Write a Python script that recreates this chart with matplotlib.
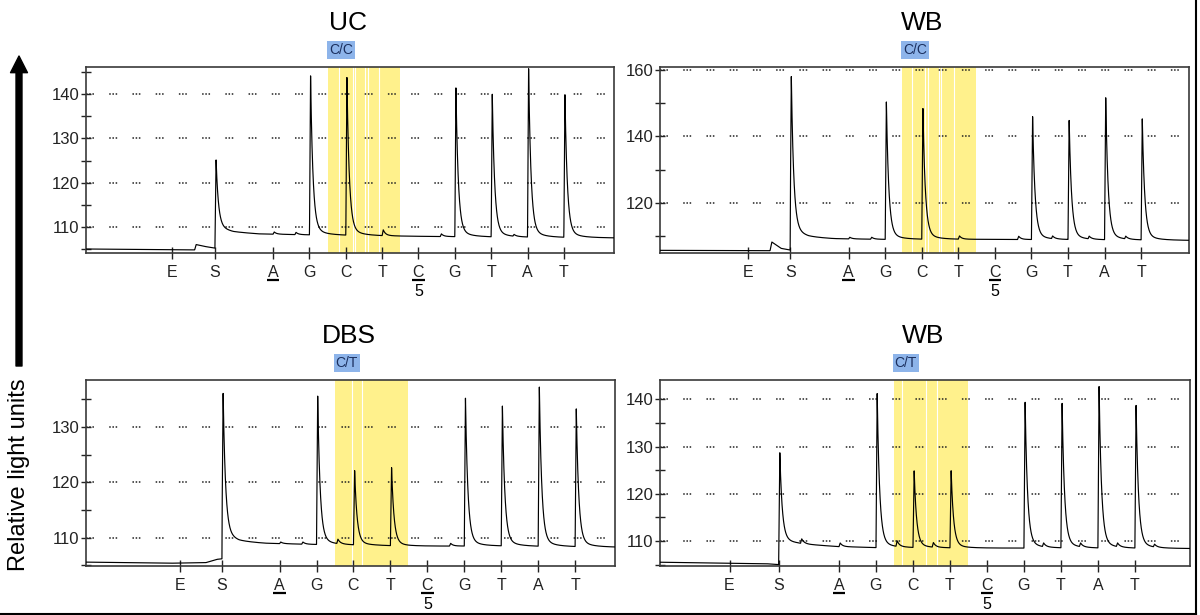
import numpy as np
import matplotlib
matplotlib.use("Agg")
import matplotlib.pyplot as plt
from matplotlib.lines import Line2D
from matplotlib.patches import FancyArrowPatch
from matplotlib.ticker import MultipleLocator
import matplotlib.transforms as mtransforms

plt.rcParams['font.family'] = ['Liberation Sans', 'DejaVu Sans']

W, H = 1200, 615

# dispensation order printed under every pyrogram
disp_labels = ['E', 'S', 'A', 'G', 'C', 'T', 'C', 'G', 'T', 'A', 'T']
nuc_pos = [3, 4, 5, 6, 7, 8, 9, 10, 11]

# ---- UC (top left) ----
uc_es = [0.23, 1.40]
uc_xlim = (-2.15, 12.38)
uc_ylim = (104.2, 146.1)
uc_base_x = [-2.15, 0.84, 0.88, 1.10, 1.40, 1.405, 1.9, 2.6, 3.9, 6.5, 9.0, 12.38]
uc_base_y = [105.1, 104.9, 106.1, 105.7, 105.3, 109.7, 108.9, 108.5, 108.3, 108.0, 107.8, 107.6]
uc_heights = [0, 15.5, 0.5, 35.8, 35.5, 1.3, 0, 33.5, 32.1, 37.9, 32.1]
uc_bump_x = [3.6, 7.6, 9.6]
uc_bump_h = [0.5, 0.6, 0.4]
uc_band = (4.52, 6.50)
uc_band_lines = [4.82, 5.20, 5.26, 5.54, 5.60, 5.92]

# ---- WB (top right) ----
wb1_es = [0.25, 1.40]
wb1_xlim = (-2.16, 12.31)
wb1_ylim = (104.9, 160.9)
wb1_base_x = [-2.16, 0.85, 0.90, 1.15, 1.40, 1.405, 1.9, 2.6, 4.0, 7.0, 9.0, 12.31]
wb1_base_y = [105.7, 105.6, 108.2, 106.3, 105.8, 110.5, 109.6, 109.2, 109.0, 109.0, 108.9, 108.7]
wb1_heights = [0, 49.0, 0.5, 42.6, 40.5, 1.0, 0, 38.1, 36.9, 44.0, 37.5]
wb1_bump_x = [3.6, 7.62, 8.55, 9.55, 10.55]
wb1_bump_h = [0.6, 1.0, 0.8, 0.8, 0.8]
wb1_band = (4.47, 6.48)
wb1_band_lines = [4.73, 5.10, 5.17, 5.46, 5.54, 5.88]

# ---- DBS (bottom left) ----
dbs_es = [0.30, 1.44]
dbs_xlim = (-2.24, 12.08)
dbs_ylim = (104.9, 138.5)
dbs_base_x = [-2.24, 0.0, 1.0, 1.30, 1.44, 1.445, 1.9, 2.6, 3.9, 6.5, 9.0, 12.08]
dbs_base_y = [105.6, 105.4, 105.5, 106.1, 106.2, 110.0, 109.3, 109.0, 108.8, 108.5, 108.5, 108.3]
dbs_heights = [0, 26.9, 0.3, 27.6, 13.8, 14.5, 0, 27.5, 26.0, 29.6, 25.6]
dbs_bump_x = [3.6, 4.55, 7.6]
dbs_bump_h = [0.4, 0.8, 0.5]
dbs_band = (4.49, 6.47)
dbs_band_lines = [4.95, 5.23]

# ---- WB (bottom right) ----
wb2_es = [0.04, 1.37]
wb2_xlim = (-1.84, 12.49)
wb2_ylim = (104.7, 144.1)
wb2_base_x = [-1.84, 0.0, 1.0, 1.37, 1.375, 2.2, 3.0, 4.0, 6.5, 9.0, 12.49]
wb2_base_y = [105.5, 105.3, 105.2, 105.0, 109.8, 109.2, 108.8, 108.6, 108.5, 108.5, 108.4]
wb2_heights = [0, 18.9, 0.8, 33.6, 16.7, 16.8, 0, 31.8, 31.5, 35.2, 31.1]
wb2_bump_x = [1.96, 4.54, 5.52, 8.5, 9.5, 10.5, 11.5]
wb2_bump_h = [1.0, 1.2, 1.0, 0.8, 0.8, 0.8, 0.6]
wb2_band = (4.48, 6.50)
wb2_band_lines = [4.71, 5.35, 5.65]

panels = [
    dict(rect=(86, 67, 614, 253), title='UC', geno='C/C', es=uc_es, xlim=uc_xlim,
         ylim=uc_ylim, major=10, minor=5, bx=uc_base_x, by=uc_base_y, h=uc_heights,
         bumpx=uc_bump_x, bumph=uc_bump_h, band=uc_band, blines=uc_band_lines),
    dict(rect=(660, 67, 1189, 253), title='WB', geno='C/C', es=wb1_es, xlim=wb1_xlim,
         ylim=wb1_ylim, major=20, minor=10, bx=wb1_base_x, by=wb1_base_y, h=wb1_heights,
         bumpx=wb1_bump_x, bumph=wb1_bump_h, band=wb1_band, blines=wb1_band_lines),
    dict(rect=(86, 380, 615, 566), title='DBS', geno='C/T', es=dbs_es, xlim=dbs_xlim,
         ylim=dbs_ylim, major=10, minor=5, bx=dbs_base_x, by=dbs_base_y, h=dbs_heights,
         bumpx=dbs_bump_x, bumph=dbs_bump_h, band=dbs_band, blines=dbs_band_lines),
    dict(rect=(660, 380, 1190, 566), title='WB', geno='C/T', es=wb2_es, xlim=wb2_xlim,
         ylim=wb2_ylim, major=10, minor=5, bx=wb2_base_x, by=wb2_base_y, h=wb2_heights,
         bumpx=wb2_bump_x, bumph=wb2_bump_h, band=wb2_band, blines=wb2_band_lines),
]


def peak_shape(t):
    # sharp light flash: quick rise, fast decay with a short tail
    rise = np.clip(t / 0.03, 0, 1)
    dt = np.clip(t - 0.03, 0, None)
    decay = 0.95 * np.exp(-dt / 0.065) + 0.05 * np.exp(-dt / 0.3)
    return np.where(t < 0, 0.0, np.where(t < 0.03, rise, decay))


fig = plt.figure(figsize=(W / 100, H / 100), dpi=100)

for p in panels:
    l, t, r, b = p['rect']
    ax = fig.add_axes([l / W, 1 - b / H, (r - l) / W, (b - t) / H])
    ax_h = b - t

    pos = list(p['es']) + nuc_pos
    x = np.arange(p['xlim'][0], p['xlim'][1], 0.004)
    y = np.interp(x, p['bx'], p['by'])
    for xp, hp in zip(pos + p['bumpx'], p['h'] + p['bumph']):
        y = y + hp * peak_shape(x - xp)

    ax.axvspan(p['band'][0], p['band'][1], color='#fff18c', lw=0, zorder=0)
    for xl in p['blines']:
        ax.axvline(xl, color='white', lw=0.8, zorder=0.5)

    ax.plot(x, y, color='black', lw=0.85, zorder=3)

    ax.set_xlim(*p['xlim'])
    ax.set_ylim(*p['ylim'])
    ax.yaxis.set_major_locator(MultipleLocator(p['major']))
    ax.yaxis.set_minor_locator(MultipleLocator(p['minor']))
    ax.yaxis.grid(True, which='major', color='#222222', lw=1.1,
                  linestyle=(0, (1, 1.1, 1, 1.1, 1, 10)), zorder=1)

    ax.set_xticks(pos)
    ax.set_xticklabels(disp_labels, fontsize=11.5)
    ax.tick_params(axis='x', direction='inout', length=8, width=1, pad=4.5, colors='#222222')
    ax.tick_params(axis='y', which='both', direction='inout', length=7, width=1, pad=1,
                   labelsize=12, colors='#222222')
    for s in ax.spines.values():
        s.set_color('#3a3a3a')
        s.set_linewidth(1.2)

    # underline under A, and under the C that carries the "5"
    for xi in [3, 7]:
        ax.plot([xi - 0.17, xi + 0.17], [-26.5 / ax_h] * 2, color='black', lw=1.6,
                transform=ax.get_xaxis_transform(), clip_on=False, solid_capstyle='butt')
    ax.annotate('5', xy=(7, 0), xycoords=('data', 'axes fraction'), xytext=(0, -38.5),
                textcoords='offset pixels', ha='center', va='center', fontsize=11.5)

    ax.annotate(p['title'], xy=(0.5, 1), xycoords='axes fraction', xytext=(-2, 44),
                textcoords='offset pixels', ha='center', va='center', fontsize=19)
    ax.annotate(p['geno'], xy=(p['band'][0], 1), xycoords=('data', 'axes fraction'),
                xytext=(1, 17), textcoords='offset pixels', ha='left', va='center',
                fontsize=10, color='#1b2f5e',
                bbox=dict(boxstyle='square,pad=0.15', fc='#8db4ea', ec='none'))

# big arrow + axis caption on the left
arrow = FancyArrowPatch((19, H - 366), (19, H - 56), arrowstyle='simple,head_width=1.22,head_length=1.2,tail_width=0.43',
                        mutation_scale=10, color='black', transform=mtransforms.IdentityTransform(),
                        shrinkA=0, shrinkB=0)
fig.add_artist(arrow)
fig.text(19 / W, 1 - 475 / H, 'Relative light units', rotation=90, ha='center', va='center', fontsize=17)

# frame lines on the bottom and right edges
fig.add_artist(Line2D([0, 1196 / W], [1.5 / H, 1.5 / H], transform=fig.transFigure, color='black', lw=1.5))
fig.add_artist(Line2D([1195.5 / W, 1195.5 / W], [0, 1], transform=fig.transFigure, color='black', lw=1.5))

fig.savefig('out.png', dpi=100)
